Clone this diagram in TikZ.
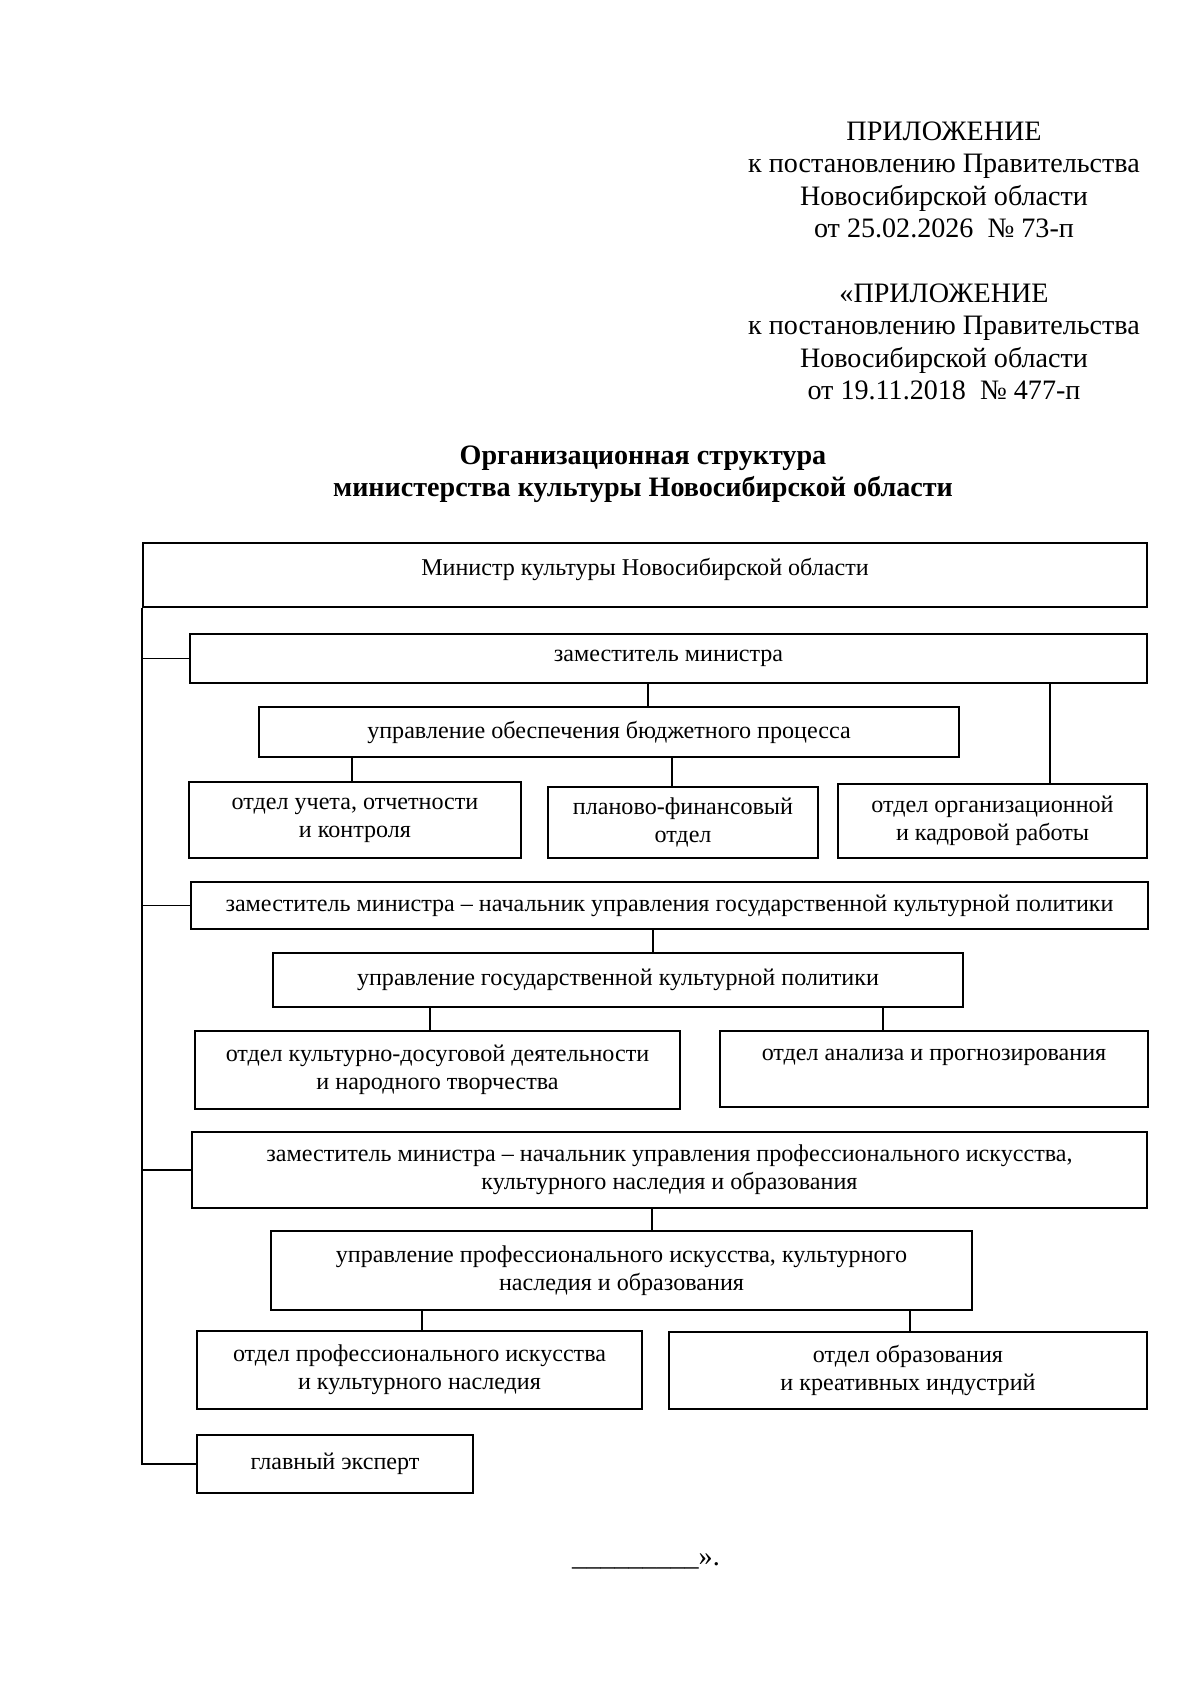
\documentclass[tikz,border=0pt]{standalone}
\usepackage{fontspec}
\setmainfont{Liberation Serif}
\usetikzlibrary{positioning}

\begin{document}
\begin{tikzpicture}[
    x=0.0175cm, y=-0.0175cm,
    box/.style={draw, line width=0.8pt, align=center, inner sep=0pt,
                font=\fontsize{12}{13.9}\selectfont},
    boxsize/.style 2 args={minimum width=#1*0.0175cm, minimum height=#2*0.0175cm},
    toptext/.style={text height=9pt, text depth=9pt},
    link/.style={line width=0.8pt},
    head/.style={align=center, inner sep=0pt, anchor=north,
                 font=\fontsize{14}{16.2}\selectfont}
  ]
  \useasboundingbox (0,0) rectangle (1200,1697);

  % Header
  \node[head] (app1) at (944,121) {ПРИЛОЖЕНИЕ\\к постановлению Правительства\\Новосибирской области\\от 25.02.2026\ \ №~73-п};
  \node[head] (app2) at (944,283) {«ПРИЛОЖЕНИЕ\\к постановлению Правительства\\Новосибирской области\\от 19.11.2018\ \ №~477-п};
  \node[head, font=\fontsize{14}{16.2}\selectfont\bfseries] (title) at (643,445)
    {Организационная структура\\министерства культуры Новосибирской области};

  % Minister and first deputy
  \node[box, boxsize={1004}{64}, toptext] (minister) at (645,575) {Министр культуры Новосибирской области};
  \node[box, boxsize={957}{49}] (zamA) at (668.5,658.5) {заместитель министра};
  \node[box, boxsize={700}{50}] (budget) at (609,732) {управление обеспечения бюджетного процесса};
  \node[box, boxsize={332}{76}] (uchet) at (355,820) {отдел учета, отчетности\\и контроля};
  \node[box, boxsize={270}{71}] (plan) at (683,822.5) {планово-финансовый\\отдел};
  \node[box, boxsize={309}{74}] (kadry) at (992.5,821) {отдел организационной\\и кадровой работы};

  % Cultural policy
  \node[box, boxsize={957}{47}] (zamB) at (669.5,905.5) {заместитель министра – начальник управления государственной культурной политики};
  \node[box, boxsize={690}{54}] (policy) at (618,980) {управление государственной культурной политики};
  \node[box, boxsize={485}{78}] (dosug) at (437.5,1070) {отдел культурно-досуговой деятельности\\и народного творчества};
  \node[box, boxsize={428}{76}] (analiz) at (934,1069) {отдел анализа и прогнозирования\\\mbox{}};

  % Professional art
  \node[box, boxsize={955}{76}] (zamC) at (669.5,1170) {заместитель министра – начальник управления профессионального искусства,\\культурного наследия и образования};
  \node[box, boxsize={701}{79}] (art) at (621.5,1270.5) {управление профессионального искусства, культурного\\наследия и образования};
  \node[box, boxsize={445}{78}] (heritage) at (419.5,1370) {отдел профессионального искусства\\и культурного наследия};
  \node[box, boxsize={478}{77}] (edu) at (908,1370.5) {отдел образования\\и креативных индустрий};
  \node[box, boxsize={276}{58}] (expert) at (335,1464) {главный эксперт};

  % Links
  \draw[link] (minister.south west) |- (expert.west);
  \foreach \n in {zamA,zamB,zamC}
    \draw[link] (\n.west -| minister.west) -- (\n.west);
  \foreach \xx/\a/\b in {648/zamA/budget, 1050/zamA/kadry, 352/budget/uchet,
                         672/budget/plan, 653/zamB/policy, 430/policy/dosug,
                         883/policy/analiz, 652/zamC/art, 422/art/heritage,
                         910/art/edu}
    \draw[link] (\a.south -| \xx,0) -- (\b.north -| \xx,0);

  % Footer
  \node[head, anchor=base] (endmark) at (646,1565) {\_\_\_\_\_\_\_\_\_».};
\end{tikzpicture}
\end{document}
